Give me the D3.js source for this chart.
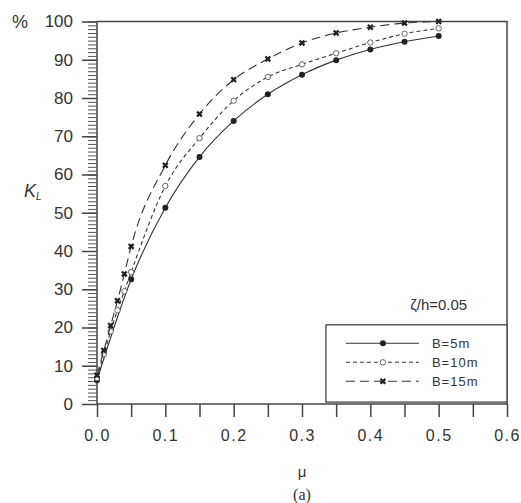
<!DOCTYPE html>
<html>
<head>
<meta charset="utf-8">
<script src="https://cdn.jsdelivr.net/npm/d3@7"></script>
<style>
  body { margin: 0; background: #fff; }
  svg text { font-family: "Liberation Sans", Arial, sans-serif; fill: #333; }
</style>
</head>
<body>
<div id="chart"></div>
<script>
// data
var muCoarse = [0, 0.05, 0.1, 0.15, 0.2, 0.25, 0.3, 0.35, 0.4, 0.45, 0.5];
var muFine = [0, 0.01, 0.02, 0.03, 0.04, 0.05, 0.1, 0.15, 0.2, 0.25, 0.3, 0.35, 0.4, 0.45, 0.5];
var kB5 = [6.2, 32.6, 51.3, 64.6, 74, 81, 86.1, 89.9, 92.7, 94.7, 96.2];
var kB10 = [6.8, 13, 19, 24.5, 29.5, 34.5, 57, 69.5, 79.3, 85.5, 88.8, 91.7, 94.5, 96.8, 98.2];
var kB15 = [7.5, 14, 20.5, 27, 34, 41.2, 62.4, 75.8, 84.8, 90.2, 94.4, 97, 98.5, 99.6, 100];
var seriesNames = ["B=5m", "B=10m", "B=15m"];
var xTickLabels = ["0.0", "0.1", "0.2", "0.3", "0.4", "0.5", "0.6"];
var yTickValues = [0, 10, 20, 30, 40, 50, 60, 70, 80, 90, 100];

var width = 521, height = 503;
var margin = {top: 21.5, right: 14, bottom: 99, left: 97};

var svg = d3.select("#chart").append("svg")
  .attr("width", width)
  .attr("height", height);

var plot = svg.append("g")
  .attr("transform", "translate(" + margin.left + "," + margin.top + ")");

var w = width - margin.left - margin.right;
var h = height - margin.top - margin.bottom;

var x = d3.scaleLinear().domain([0, 0.6]).range([0, w]);
var y = d3.scaleLinear().domain([0, 100]).range([h, 0]);

// frame
plot.append("rect")
  .attr("width", w).attr("height", h)
  .attr("fill", "none").attr("stroke", "#444").attr("stroke-width", 1.5);

// x axis: ticks every 0.05, labels every 0.1
var xAxis = d3.axisBottom(x)
  .tickValues(d3.range(0, 0.601, 0.05))
  .tickSize(13)
  .tickFormat(function(d) {
    var i = Math.round(d * 20);
    return i % 2 === 0 ? xTickLabels[i / 2] : "";
  });
var gx = plot.append("g")
  .attr("transform", "translate(0," + h + ")")
  .call(xAxis);
gx.select(".domain").remove();
gx.selectAll(".tick line").attr("stroke", "#444").attr("stroke-width", 1.5);
gx.selectAll(".tick text")
  .attr("y", 26)
  .style("font-size", "16px")
  .style("letter-spacing", "1.5px");

// y axis minor ticks every 1
var yMinor = d3.axisLeft(y)
  .tickValues(d3.range(0, 101, 1))
  .tickSize(9)
  .tickFormat("");
var gym = plot.append("g").call(yMinor);
gym.select(".domain").remove();
gym.selectAll(".tick line").attr("stroke", "#555").attr("stroke-width", 1);

var yAxis = d3.axisLeft(y)
  .tickValues(yTickValues)
  .tickSize(15)
  .tickPadding(9);
var gy = plot.append("g").call(yAxis);
gy.select(".domain").remove();
gy.selectAll(".tick line").attr("stroke", "#444").attr("stroke-width", 1.5);
gy.selectAll(".tick text").style("font-size", "17px");

// series
var line = d3.line()
  .x(function(d) { return x(d[0]); })
  .y(function(d) { return y(d[1]); })
  .curve(d3.curveMonotoneX);

var series = [
  {name: seriesNames[0], pts: d3.zip(muCoarse, kB5), dash: null, marker: "dot"},
  {name: seriesNames[1], pts: d3.zip(muFine, kB10), dash: "4,3", marker: "open"},
  {name: seriesNames[2], pts: d3.zip(muFine, kB15), dash: "9,5", marker: "cross"}
];

var crossPath = d3.symbol().type(d3.symbolCross).size(26)();

function drawMarker(g, type, cx, cy) {
  if (type === "dot") {
    g.append("circle").attr("cx", cx).attr("cy", cy).attr("r", 3).attr("fill", "#222");
  } else if (type === "open") {
    g.append("circle").attr("cx", cx).attr("cy", cy).attr("r", 2.7)
      .attr("fill", "#fff").attr("stroke", "#666").attr("stroke-width", 1);
  } else {
    g.append("path").attr("d", crossPath)
      .attr("transform", "translate(" + cx + "," + cy + ") rotate(45)")
      .attr("fill", "#222");
  }
}

series.forEach(function(s) {
  plot.append("path")
    .datum(s.pts)
    .attr("d", line)
    .attr("fill", "none")
    .attr("stroke", "#333")
    .attr("stroke-width", 1.1)
    .attr("stroke-dasharray", s.dash);
  var mg = plot.append("g");
  s.pts.forEach(function(p) {
    drawMarker(mg, s.marker, x(p[0]), y(p[1]));
  });
});

// annotation
plot.append("text")
  .attr("x", x(0.5))
  .attr("y", y(24.5))
  .attr("text-anchor", "middle")
  .style("font-size", "15px")
  .text("\u03B6/h=0.05");

// legend box
var lx0 = x(0.335), ly0 = y(20.7);
var legend = plot.append("g");
legend.append("rect")
  .attr("x", lx0).attr("y", ly0)
  .attr("width", w - lx0).attr("height", y(0.5) - ly0)
  .attr("fill", "#fff").attr("stroke", "#444").attr("stroke-width", 1.3);

series.forEach(function(s, i) {
  var ly = ly0 + 18.5 + i * 19;
  legend.append("line")
    .attr("x1", lx0 + 20).attr("x2", lx0 + 93)
    .attr("y1", ly).attr("y2", ly)
    .attr("stroke", "#333").attr("stroke-width", 1.1)
    .attr("stroke-dasharray", s.dash);
  drawMarker(legend, s.marker, lx0 + 57, ly);
  legend.append("text")
    .attr("x", lx0 + 106).attr("y", ly + 5)
    .style("font-size", "13px")
    .style("letter-spacing", "1px")
    .text(s.name);
});

// axis titles
svg.append("text")
  .attr("x", 12).attr("y", 28)
  .style("font-size", "18px")
  .text("%");

var kl = svg.append("text")
  .attr("x", 24).attr("y", 197)
  .style("font-size", "18px")
  .style("font-style", "italic");
kl.append("tspan").text("K");
kl.append("tspan").attr("dy", 3).style("font-size", "10px").text("L");

svg.append("text")
  .attr("x", margin.left + x(0.3)).attr("y", 477)
  .attr("text-anchor", "middle")
  .style("font-size", "15px")
  .text("\u03BC");

svg.append("text")
  .attr("x", margin.left + x(0.3)).attr("y", 500)
  .attr("text-anchor", "middle")
  .style("font-family", "'Liberation Serif', 'DejaVu Serif', serif")
  .style("font-size", "16px")
  .text("(a)");
</script>
</body>
</html>
